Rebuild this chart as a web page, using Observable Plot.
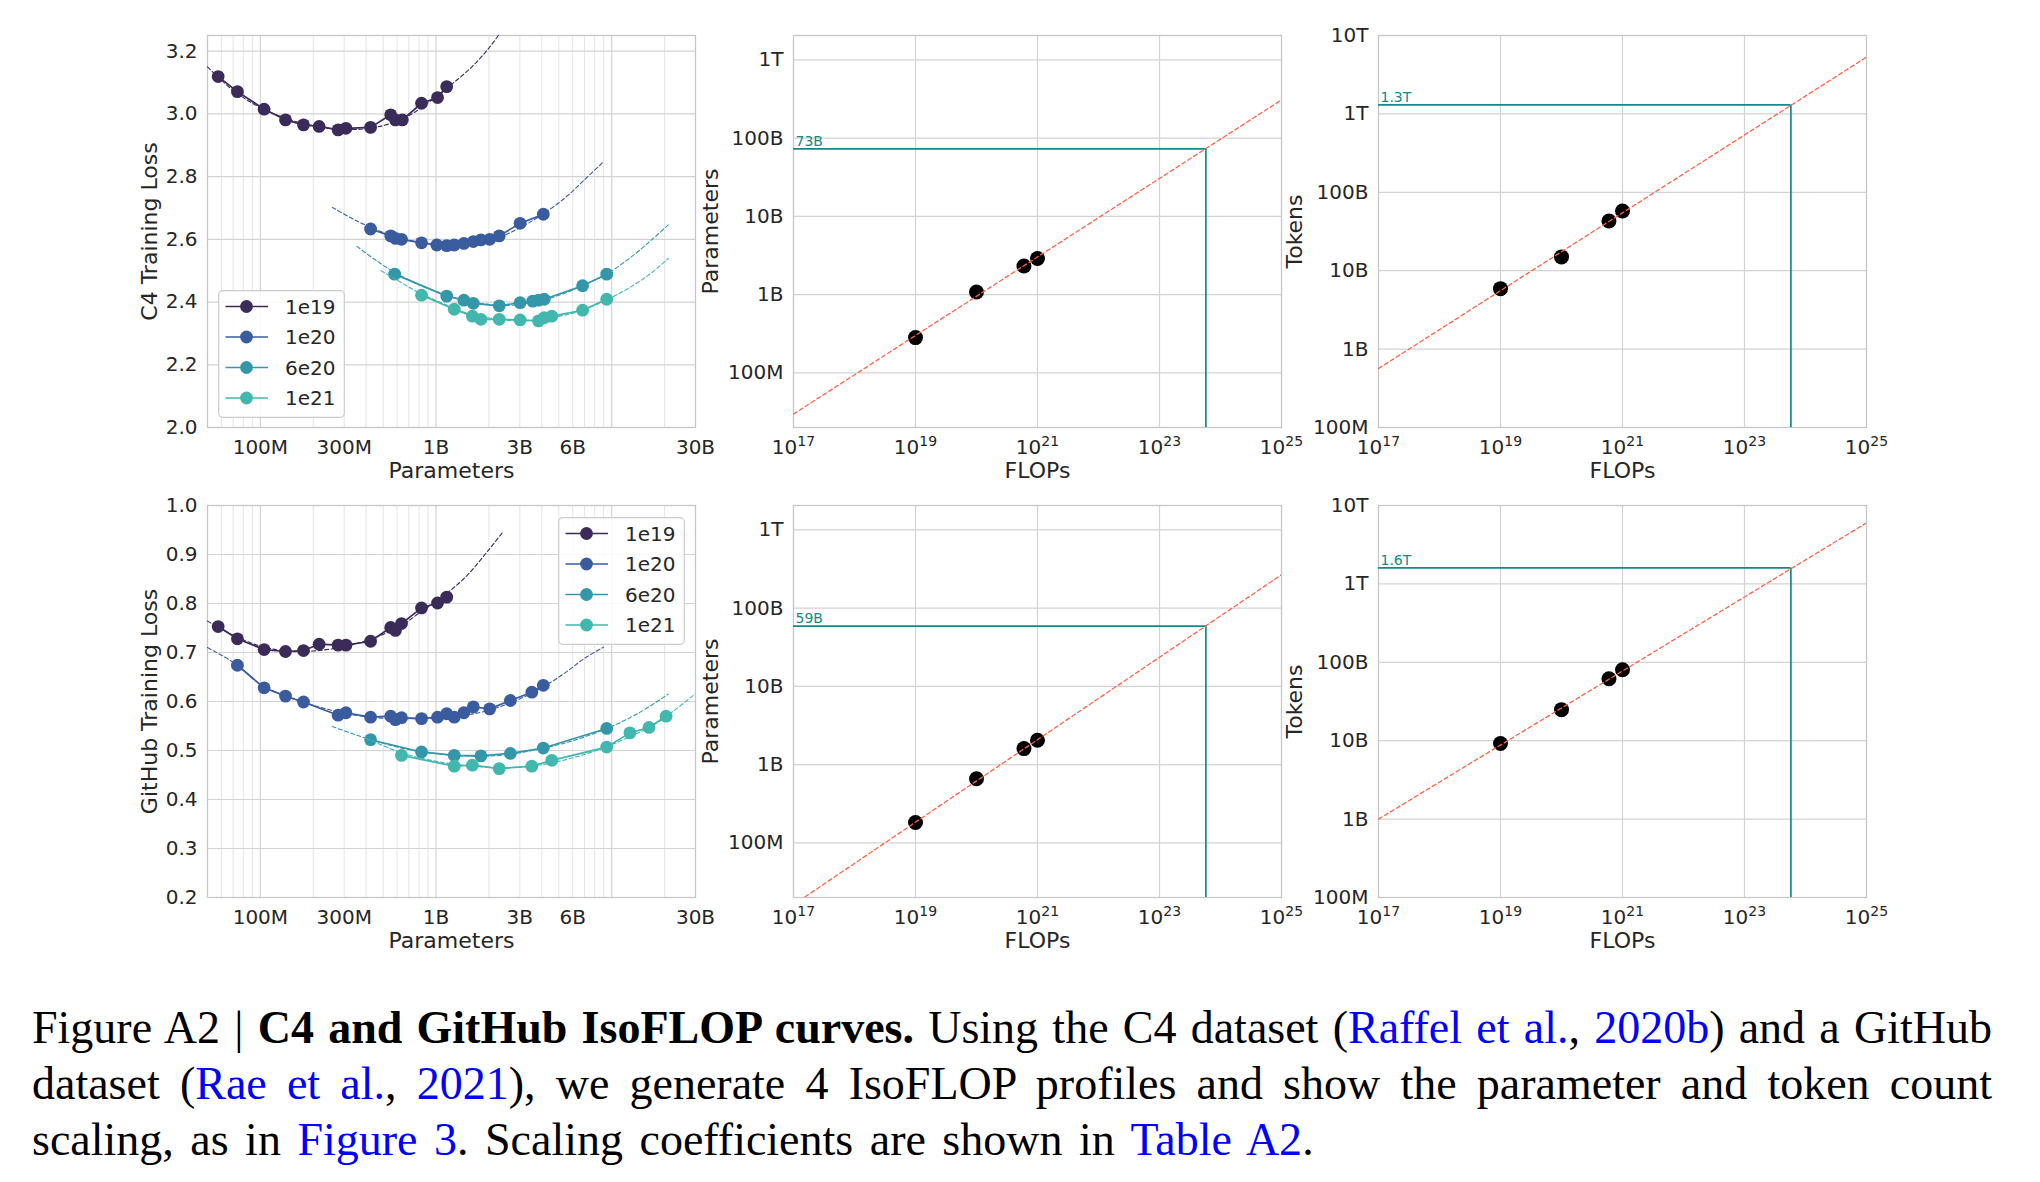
<!DOCTYPE html>
<html><head><meta charset="utf-8">
<script src="https://cdn.jsdelivr.net/npm/d3@7"></script>
<script src="https://cdn.jsdelivr.net/npm/@observablehq/plot@0.6"></script>
<style>
body{margin:0;background:#fff;}
#fig{position:relative;width:2040px;height:1182px;overflow:hidden;background:#fff;}
.panel{position:absolute;}
.panel svg{overflow:visible;}
g[aria-label="x-axis label"] text, g[aria-label="y-axis label"] text{font-size:22px;}
.legend{position:absolute;}
.caption{position:absolute;left:32px;top:1000px;width:1960px;font-family:"Liberation Serif",serif;font-size:46px;line-height:56px;color:#000;}
.caption div{white-space:nowrap;}
.caption .j{text-align:justify;text-align-last:justify;}
.caption .last{word-spacing:5px;}
.caption a{color:#0000ff;text-decoration:none;}
</style></head>
<body><div id="fig"></div>
<script>
// ---------- categories / ticks ----------
const seriesNames = ["1e19", "1e20", "6e20", "1e21"];
const seriesColors = ["#3b2b58", "#3a5c9e", "#3497a9", "#41b7ad"];
const paramTicks = [1e8, 3e8, 1e9, 3e9, 6e9, 3e10];
const paramTickLabels = ["100M", "300M", "1B", "3B", "6B", "30B"];
const paramMajorGrid = [1e8, 1e9, 1e10];
const paramMinorGrid = [6e7, 7e7, 8e7, 9e7, 2e8, 3e8, 4e8, 5e8, 6e8, 7e8, 8e8, 9e8, 2e9, 3e9, 4e9, 5e9, 6e9, 7e9, 8e9, 9e9, 2e10];
const c4LossTicks = [2.0, 2.2, 2.4, 2.6, 2.8, 3.0, 3.2];
const githubLossTicks = [0.2, 0.3, 0.4, 0.5, 0.6, 0.7, 0.8, 0.9, 1.0];
const flopTicks = [1e17, 1e19, 1e21, 1e23, 1e25];
const flopTickExponents = ["17", "19", "21", "23", "25"];
const paramAxisTicks = [1e8, 1e9, 1e10, 1e11, 1e12];
const paramAxisLabels = ["100M", "1B", "10B", "100B", "1T"];
const tokenAxisTicks = [1e8, 1e9, 1e10, 1e11, 1e12, 1e13];
const tokenAxisLabels = ["100M", "1B", "10B", "100B", "1T", "10T"];

// ---------- C4 IsoFLOP profiles ----------
const c4Params1e19 = [5.75e7, 7.4e7, 1.05e8, 1.39e8, 1.76e8, 2.16e8, 2.77e8, 3.07e8, 4.24e8, 5.52e8, 5.87e8, 6.43e8, 8.27e8, 1.02e9, 1.15e9];
const c4Loss1e19 = [3.119, 3.071, 3.015, 2.981, 2.965, 2.960, 2.949, 2.954, 2.957, 2.997, 2.981, 2.981, 3.034, 3.052, 3.087];
const c4Params1e20 = [4.24e8, 5.52e8, 5.87e8, 6.36e8, 8.27e8, 1.01e9, 1.15e9, 1.27e9, 1.44e9, 1.63e9, 1.80e9, 2.02e9, 2.29e9, 3.01e9, 4.08e9];
const c4Loss1e20 = [2.633, 2.611, 2.603, 2.600, 2.589, 2.582, 2.580, 2.582, 2.587, 2.593, 2.598, 2.600, 2.611, 2.651, 2.680];
const c4Params6e20 = [5.81e8, 1.15e9, 1.44e9, 1.63e9, 2.29e9, 3.01e9, 3.55e9, 3.83e9, 4.13e9, 6.83e9, 9.37e9];
const c4Loss6e20 = [2.489, 2.419, 2.406, 2.396, 2.388, 2.398, 2.403, 2.406, 2.409, 2.452, 2.489];
const c4Params1e21 = [8.27e8, 1.27e9, 1.61e9, 1.80e9, 2.29e9, 3.01e9, 3.83e9, 4.13e9, 4.56e9, 6.83e9, 9.37e9];
const c4Loss1e21 = [2.422, 2.377, 2.355, 2.345, 2.345, 2.343, 2.340, 2.350, 2.355, 2.374, 2.409];
// fitted (dashed) curves
const c4FitParams1e19 = [5e7, 7e7, 1e8, 1.5e8, 2.2e8, 3.2e8, 4.5e8, 6.5e8, 9e8, 1.2e9, 1.6e9, 2e9, 2.4e9];
const c4FitLoss1e19 = [3.15, 3.075, 3.02, 2.98, 2.958, 2.95, 2.957, 2.985, 3.035, 3.09, 3.15, 3.21, 3.27];
const c4FitParams1e20 = [2.57e8, 3.5e8, 5e8, 7e8, 1e9, 1.5e9, 2.2e9, 3e9, 4e9, 5.5e9, 7e9, 9e9];
const c4FitLoss1e20 = [2.702, 2.66, 2.622, 2.598, 2.584, 2.585, 2.603, 2.637, 2.678, 2.735, 2.79, 2.848];
const c4FitParams6e20 = [3.55e8, 4.5e8, 5.8e8, 8e8, 1.15e9, 1.6e9, 2.3e9, 3e9, 4e9, 5.5e9, 7e9, 9.4e9, 1.3e10, 1.7e10, 2.1e10];
const c4FitLoss6e20 = [2.577, 2.535, 2.495, 2.455, 2.422, 2.4, 2.39, 2.392, 2.405, 2.43, 2.455, 2.49, 2.545, 2.6, 2.646];
const c4FitParams1e21 = [4.87e8, 6e8, 8e8, 1.1e9, 1.6e9, 2.3e9, 3.2e9, 4.5e9, 6.5e9, 9.4e9, 1.3e10, 1.7e10, 2.1e10];
const c4FitLoss1e21 = [2.5, 2.47, 2.43, 2.395, 2.36, 2.345, 2.34, 2.35, 2.37, 2.408, 2.45, 2.495, 2.539];

// ---------- GitHub IsoFLOP profiles ----------
const ghParams1e19 = [5.75e7, 7.4e7, 1.05e8, 1.39e8, 1.76e8, 2.16e8, 2.77e8, 3.07e8, 4.24e8, 5.52e8, 5.87e8, 6.36e8, 8.27e8, 1.02e9, 1.15e9];
const ghLoss1e19 = [0.753, 0.728, 0.706, 0.702, 0.704, 0.717, 0.715, 0.715, 0.723, 0.751, 0.745, 0.759, 0.791, 0.801, 0.813];
const ghParams1e20 = [7.4e7, 1.05e8, 1.39e8, 1.76e8, 2.77e8, 3.07e8, 4.24e8, 5.52e8, 5.87e8, 6.36e8, 8.27e8, 1.02e9, 1.15e9, 1.27e9, 1.44e9, 1.63e9, 2.02e9, 2.65e9, 3.51e9, 4.08e9];
const ghLoss1e20 = [0.674, 0.628, 0.611, 0.599, 0.572, 0.577, 0.568, 0.570, 0.563, 0.567, 0.565, 0.568, 0.575, 0.568, 0.577, 0.589, 0.585, 0.602, 0.619, 0.633];
const ghParams6e20 = [4.24e8, 8.27e8, 1.27e9, 1.80e9, 2.65e9, 4.08e9, 9.37e9];
const ghLoss6e20 = [0.522, 0.497, 0.490, 0.489, 0.494, 0.505, 0.545];
const ghParams1e21 = [6.36e8, 1.27e9, 1.61e9, 2.29e9, 3.51e9, 4.56e9, 9.37e9, 1.27e10, 1.63e10, 2.04e10];
const ghLoss1e21 = [0.490, 0.468, 0.470, 0.463, 0.468, 0.480, 0.507, 0.536, 0.547, 0.570];
const ghFitParams1e19 = [5e7, 7e7, 1e8, 1.4e8, 2e8, 3e8, 4.2e8, 6e8, 8e8, 1.1e9, 1.5e9, 2e9, 2.38e9];
const ghFitLoss1e19 = [0.764, 0.735, 0.713, 0.703, 0.703, 0.712, 0.727, 0.75, 0.78, 0.815, 0.857, 0.91, 0.944];
const ghFitParams1e20 = [5e7, 7e7, 1e8, 1.5e8, 2.2e8, 3.2e8, 5e8, 8e8, 1.2e9, 1.8e9, 2.6e9, 4e9, 5.5e9, 7e9, 9e9];
const ghFitLoss1e20 = [0.71, 0.68, 0.635, 0.607, 0.588, 0.574, 0.566, 0.565, 0.568, 0.578, 0.596, 0.628, 0.66, 0.688, 0.711];
const ghFitParams6e20 = [2.57e8, 3.3e8, 4.24e8, 6e8, 8.3e8, 1.3e9, 1.8e9, 2.6e9, 4e9, 6e9, 9.4e9, 1.4e10, 2.1e10];
const ghFitLoss6e20 = [0.549, 0.535, 0.522, 0.507, 0.497, 0.49, 0.488, 0.492, 0.504, 0.52, 0.545, 0.575, 0.615];
const ghFitParams1e21 = [4e8, 6.4e8, 1e9, 1.5e9, 2.3e9, 3.5e9, 5e9, 7e9, 9.4e9, 1.3e10, 1.7e10, 2.2e10, 3e10];
const ghFitLoss1e21 = [0.525, 0.495, 0.478, 0.469, 0.465, 0.468, 0.478, 0.492, 0.508, 0.53, 0.55, 0.578, 0.616];

// ---------- optimal scaling ----------
const flopBudgets = [1e19, 1e20, 6e20, 1e21];
const c4OptParams = [2.82e8, 1.08e9, 2.32e9, 2.89e9];
const c4OptTokens = [5.9e9, 1.5e10, 4.3e10, 5.77e10];
const ghOptParams = [1.82e8, 6.6e8, 1.6e9, 2.05e9];
const ghOptTokens = [9.2e9, 2.49e10, 6.18e10, 8.05e10];
const fitFlops = [1e17, 1e25];
const c4FitParamsLine = [2.97e7, 3.08e11];
const c4FitTokensLine = [5.65e8, 5.3e12];
const ghFitParamsLine = [1.62e7, 2.67e11];
const ghFitTokensLine = [1.0e9, 6.0e12];
const targetFlops = 5.76e23;
const c4Target = [7.3e10, 1.3e12];
const ghTarget = [5.9e10, 1.6e12];
const targetLabels = ["73B", "1.3T", "59B", "1.6T"];

// ---------- layout ----------
const FW = 488, FH = 392;
const colLeft = [206.5, 792.6, 1377.9];
const rowTop = [35, 505];
const mL = 115, mR = 20, mT = 20, mB = 75;
const fig = document.getElementById("fig");
const GRID = "#d3d3d3", FRAME = "#c6c6c6", TEAL = "#138a87", RED = "#ff6347";
const baseStyle = {background: "transparent", fontFamily: "DejaVu Sans", fontSize: "20px", color: "#262626", overflow: "visible"};

function lookup(ticks, labels) {
  return d => {
    const i = ticks.findIndex(t => Math.abs(t / d - 1) < 1e-6);
    return i < 0 ? "" : labels[i];
  };
}

function place(svg, col, row) {
  const d = document.createElement("div");
  d.className = "panel";
  d.style.left = (colLeft[col] - mL) + "px";
  d.style.top = (rowTop[row] - mT) + "px";
  d.appendChild(svg);
  fig.appendChild(d);
}

function lossPanel(params, losses, fitP, fitL, yTicks, yLabel, col, row) {
  const marks = [
    Plot.gridX(paramMinorGrid, {stroke: "#dedede", strokeWidth: 0.8, strokeOpacity: 1}),
    Plot.gridX(paramMajorGrid, {stroke: GRID, strokeWidth: 1.2, strokeOpacity: 1}),
    Plot.gridY(yTicks, {stroke: GRID, strokeWidth: 1.2, strokeOpacity: 1}),
    Plot.frame({stroke: FRAME, strokeWidth: 1.3}),
    // axis for the title only; tick labels are drawn as text below (log axes would drop 3B/6B/30B)
    Plot.axisX(paramTicks, {tickFormat: () => "", tickSize: 0, tickPadding: 12,
      label: "Parameters", labelAnchor: "center", labelArrow: "none", labelOffset: 50}),
    Plot.text(paramTicks, {x: d => d, text: lookup(paramTicks, paramTickLabels), frameAnchor: "bottom", lineAnchor: "top", dy: 12, fill: "#262626"}),
    Plot.axisY(yTicks, {tickFormat: d3.format(".1f"), tickSize: 0, tickPadding: 10,
      label: yLabel, labelAnchor: "center", labelArrow: "none", labelOffset: 66})
  ];
  seriesNames.forEach((s, i) => {
    const fit = fitP[i].map((p, j) => ({p, l: fitL[i][j]}));
    const pts = params[i].map((p, j) => ({p, l: losses[i][j]}));
    marks.push(Plot.line(fit, {x: "p", y: "l", stroke: seriesColors[i], strokeWidth: 1.1, strokeDasharray: "4,2.5", curve: "catmull-rom", clip: true}));
    marks.push(Plot.line(pts, {x: "p", y: "l", stroke: seriesColors[i], strokeWidth: 1.7}));
    marks.push(Plot.dot(pts, {x: "p", y: "l", fill: seriesColors[i], r: 6.4}));
  });
  const svg = Plot.plot({
    width: mL + FW + mR, height: mT + FH + mB,
    marginLeft: mL, marginRight: mR, marginTop: mT, marginBottom: mB,
    style: baseStyle,
    x: {type: "log", domain: [5e7, 3e10]},
    y: {domain: [yTicks[0], row === 0 ? 3.25 : 1.0]},
    marks
  });
  place(svg, col, row);
}

function scalingPanel(opt, fitLine, target, label, ticks, tickLabels, yDomain, yLabel, labelOffset, col, row) {
  const pts = flopBudgets.map((f, i) => ({f, v: opt[i]}));
  const fit = fitFlops.map((f, i) => ({f, v: fitLine[i]}));
  const marks = [
    Plot.gridX(flopTicks.slice(1, -1), {stroke: GRID, strokeWidth: 1.2, strokeOpacity: 1}),
    Plot.gridY(ticks, {stroke: GRID, strokeWidth: 1.2, strokeOpacity: 1}),
    Plot.frame({stroke: FRAME, strokeWidth: 1.3}),
    Plot.axisX(flopTicks, {tickFormat: lookup(flopTicks, flopTickExponents), tickSize: 0, tickPadding: 12,
      label: "FLOPs", labelAnchor: "center", labelArrow: "none", labelOffset: 50}),
    Plot.axisY(ticks, {tickFormat: lookup(ticks, tickLabels), tickSize: 0, tickPadding: 10,
      label: yLabel, labelAnchor: "center", labelArrow: "none", labelOffset}),
    Plot.ruleY([target], {y: d => d, x1: () => fitFlops[0], x2: () => targetFlops, stroke: TEAL, strokeWidth: 1.7}),
    Plot.ruleX([targetFlops], {x: d => d, y1: () => yDomain[0], y2: () => target, stroke: TEAL, strokeWidth: 1.7}),
    Plot.text([label], {x: () => fitFlops[0], y: () => target, text: d => d, textAnchor: "start", lineAnchor: "bottom", dx: 2, dy: -3, fill: TEAL, fontSize: 14}),
    Plot.dot(pts, {x: "f", y: "v", fill: "black", r: 7.5}),
    Plot.line(fit, {x: "f", y: "v", stroke: RED, strokeWidth: 1.3, strokeDasharray: "4,3", clip: true})
  ];
  const svg = Plot.plot({
    width: mL + FW + mR, height: mT + FH + mB,
    marginLeft: mL, marginRight: mR, marginTop: mT, marginBottom: mB,
    style: baseStyle,
    x: {type: "log", domain: [1e17, 1e25]},
    y: {type: "log", domain: yDomain},
    marks
  });
  // render the power-of-ten tick labels as 10 with a raised exponent
  svg.querySelectorAll('g[aria-label="x-axis tick label"] text').forEach(t => {
    const exp = t.textContent;
    if (!exp) return;
    t.textContent = "10";
    const ts = document.createElementNS("http://www.w3.org/2000/svg", "tspan");
    ts.setAttribute("dy", "-0.55em");
    ts.setAttribute("font-size", "14");
    ts.textContent = exp;
    t.appendChild(ts);
  });
  place(svg, col, row);
}

lossPanel([c4Params1e19, c4Params1e20, c4Params6e20, c4Params1e21], [c4Loss1e19, c4Loss1e20, c4Loss6e20, c4Loss1e21],
  [c4FitParams1e19, c4FitParams1e20, c4FitParams6e20, c4FitParams1e21], [c4FitLoss1e19, c4FitLoss1e20, c4FitLoss6e20, c4FitLoss1e21],
  c4LossTicks, "C4 Training Loss", 0, 0);
lossPanel([ghParams1e19, ghParams1e20, ghParams6e20, ghParams1e21], [ghLoss1e19, ghLoss1e20, ghLoss6e20, ghLoss1e21],
  [ghFitParams1e19, ghFitParams1e20, ghFitParams6e20, ghFitParams1e21], [ghFitLoss1e19, ghFitLoss1e20, ghFitLoss6e20, ghFitLoss1e21],
  githubLossTicks, "GitHub Training Loss", 0, 1);
scalingPanel(c4OptParams, c4FitParamsLine, c4Target[0], targetLabels[0], paramAxisTicks, paramAxisLabels, [2e7, 2.05e12], "Parameters", 91, 1, 0);
scalingPanel(c4OptTokens, c4FitTokensLine, c4Target[1], targetLabels[1], tokenAxisTicks, tokenAxisLabels, [1e8, 1e13], "Tokens", 92, 2, 0);
scalingPanel(ghOptParams, ghFitParamsLine, ghTarget[0], targetLabels[2], paramAxisTicks, paramAxisLabels, [2e7, 2.05e12], "Parameters", 91, 1, 1);
scalingPanel(ghOptTokens, ghFitTokensLine, ghTarget[1], targetLabels[3], tokenAxisTicks, tokenAxisLabels, [1e8, 1e13], "Tokens", 92, 2, 1);

// ---------- legends ----------
function legend(left, top) {
  const ns = "http://www.w3.org/2000/svg";
  const svg = document.createElementNS(ns, "svg");
  svg.setAttribute("width", 127); svg.setAttribute("height", 128);
  svg.setAttribute("class", "legend");
  svg.style.left = left + "px"; svg.style.top = top + "px";
  const box = document.createElementNS(ns, "rect");
  Object.entries({x: 0.7, y: 0.7, width: 125.6, height: 126.6, rx: 4, fill: "rgba(255,255,255,0.85)", stroke: "#cccccc", "stroke-width": 1.2}).forEach(([k, v]) => box.setAttribute(k, v));
  svg.appendChild(box);
  seriesNames.forEach((s, i) => {
    const y = 16.5 + i * 30.5;
    const ln = document.createElementNS(ns, "line");
    Object.entries({x1: 7.5, x2: 50, y1: y, y2: y, stroke: seriesColors[i], "stroke-width": 1.7}).forEach(([k, v]) => ln.setAttribute(k, v));
    const c = document.createElementNS(ns, "circle");
    Object.entries({cx: 28.5, cy: y, r: 6.4, fill: seriesColors[i]}).forEach(([k, v]) => c.setAttribute(k, v));
    const t = document.createElementNS(ns, "text");
    Object.entries({x: 67, y: y + 7.3, fill: "#262626", "font-family": "DejaVu Sans", "font-size": 20}).forEach(([k, v]) => t.setAttribute(k, v));
    t.textContent = s;
    svg.appendChild(ln); svg.appendChild(c); svg.appendChild(t);
  });
  fig.appendChild(svg);
}
legend(217.5, 289.5);
legend(557.8, 516.7);

// ---------- caption ----------
const cap = document.createElement("div");
cap.className = "caption";
cap.innerHTML =
  '<div class="j">Figure A2 | <b>C4 and GitHub IsoFLOP curves.</b> Using the C4 dataset (<a>Raffel et al.</a>, <a>2020b</a>) and a GitHub</div>' +
  '<div class="j">dataset (<a>Rae et al.</a>, <a>2021</a>), we generate 4 IsoFLOP profiles and show the parameter and token count</div>' +
  '<div class="last">scaling, as in <a>Figure 3</a>. Scaling coefficients are shown in <a>Table A2</a>.</div>';
fig.appendChild(cap);
</script>
</body></html>
